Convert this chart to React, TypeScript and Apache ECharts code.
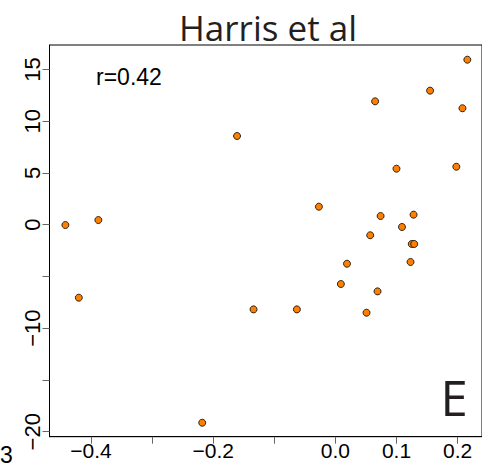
import React, { useEffect, useRef } from "react";
import * as echarts from "echarts";

const xValues = [0.216, 0.155, 0.065, 0.208, -0.161, 0.198, 0.1, -0.027, 0.074, 0.128, 0.109, 0.057, 0.125, 0.129, 0.019, 0.123, 0.009, 0.069, -0.442, -0.388, -0.42, -0.134, -0.063, 0.051, -0.218];
const yValues = [15.94, 12.95, 11.92, 11.25, 8.57, 5.6, 5.41, 1.74, 0.84, 0.97, -0.22, -1.02, -1.86, -1.86, -3.77, -3.6, -5.73, -6.44, -0.03, 0.45, -7.05, -8.18, -8.18, -8.5, -19.13];
const xTicks = [-0.4, -0.3, -0.2, -0.1, 0, 0.1, 0.2];
const xTickLabels = [-0.4, -0.2, 0, 0.1, 0.2];
const yTicks = [-20, -15, -10, -5, 0, 5, 10, 15];
const yTickLabels = [-20, -10, 0, 5, 10, 15];
const titleText = "Harris et al";
const corrText = "r=0.42";
const panelLetter = "E";
const strayLabel = "3";

const minus = (s: string) => s.replace("-", "\u2212");

export default function App() {
  const ref = useRef<HTMLDivElement>(null);
  useEffect(() => {
    if (!ref.current) return;
    const chart = echarts.init(ref.current, null, { renderer: "svg" });
    const data = xValues.map((x, i) => [x, yValues[i]]);
    chart.setOption({
      animation: false,
      grid: { left: 49.5, top: 45, right: -3.6, bottom: 32.3, show: true, borderColor: "#000", borderWidth: 1, backgroundColor: "transparent" },
      xAxis: {
        type: "value",
        min: -0.468,
        max: 0.24,
        splitLine: { show: false },
        axisLine: { show: true, onZero: false, lineStyle: { color: "#000", width: 1 } },
        axisTick: { show: true, length: 7, customValues: xTicks, lineStyle: { color: "#666" } },
        axisLabel: {
          customValues: xTickLabels,
          margin: 3,
          color: "#000",
          fontFamily: "Liberation Sans",
          fontSize: 21,
          formatter: (v: number) => minus(v.toFixed(1)),
        },
      },
      yAxis: {
        type: "value",
        min: -20.48,
        max: 17.36,
        splitLine: { show: false },
        axisLine: { show: true, onZero: false, lineStyle: { color: "#000", width: 1 } },
        axisTick: { show: true, length: 7, customValues: yTicks, lineStyle: { color: "#666" } },
        axisLabel: {
          customValues: yTickLabels,
          rotate: 90,
          margin: 6,
          color: "#000",
          fontFamily: "Liberation Sans",
          fontSize: 22,
          formatter: (v: number) => minus(String(v)),
        },
      },
      series: [
        {
          type: "scatter",
          data,
          symbol: "circle",
          symbolSize: 7,
          itemStyle: { color: "#FF8000", borderColor: "#000", borderWidth: 0.8, opacity: 1 },
        },
      ],
      graphic: [
        { type: "text", x: 268, y: 27, style: { text: titleText, font: "35px 'Open Sans'", fill: "#231f20", textAlign: "center", textVerticalAlign: "middle" } },
        { type: "text", x: 96, y: 76.7, style: { text: corrText, font: "23px 'Liberation Sans'", fill: "#000", textAlign: "left", textVerticalAlign: "middle" } },
        { type: "text", x: 440.5, y: 396.8, style: { text: panelLetter, font: "49px 'Open Sans'", fill: "#231f20", textAlign: "left", textVerticalAlign: "middle" } },
        { type: "text", x: 0, y: 455.3, style: { text: strayLabel, font: "23px 'Liberation Sans'", fill: "#000", textAlign: "left", textVerticalAlign: "middle" } },
      ],
    });
    return () => chart.dispose();
  }, []);
  return <div ref={ref} style={{ position: "absolute", left: 0, top: 0, width: 482, height: 469 }} />;
}
